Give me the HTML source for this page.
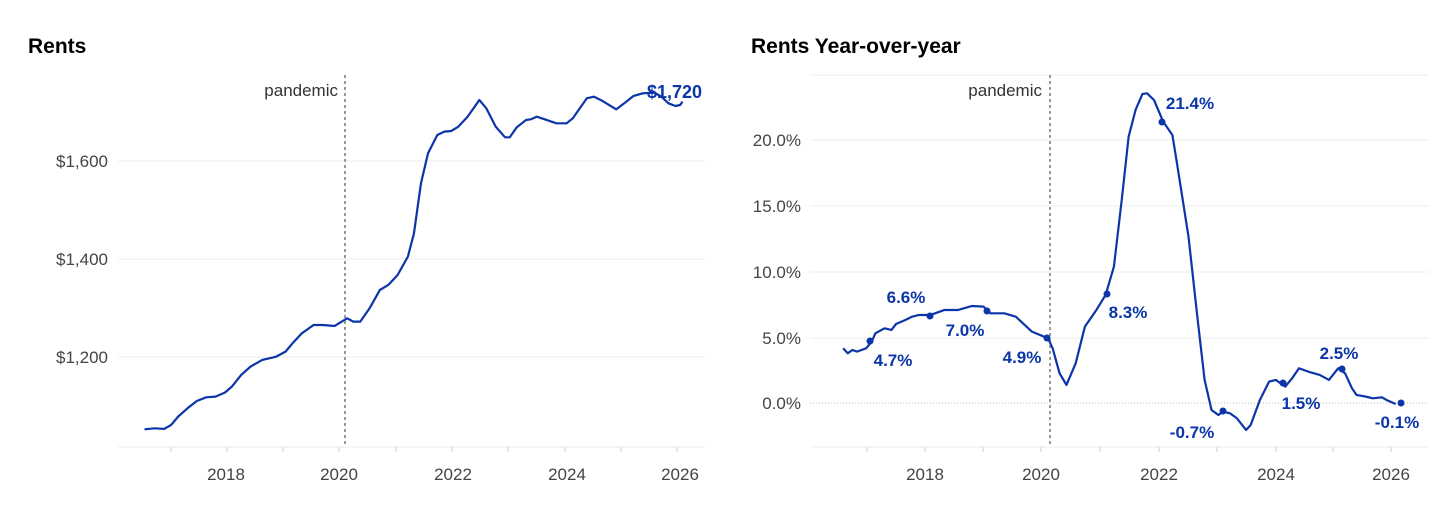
<!DOCTYPE html>
<html><head><meta charset="utf-8"><style>
html,body{margin:0;padding:0;background:#fff;width:1450px;height:505px;overflow:hidden}
svg{display:block;font-family:"Liberation Sans",sans-serif}
.t{font-size:21px;font-weight:bold;fill:#000}
.k{font-size:17px;fill:#444}
.g{stroke:#eee;stroke-width:1}
.l{fill:none;stroke:#0b35a8;stroke-width:2.2;vector-effect:non-scaling-stroke;stroke-linejoin:round}
.b{font-size:17px;font-weight:bold;fill:#0b35a8}
</style></head><body>
<svg width="1450" height="505" viewBox="0 0 1450 505">
<text class="t" x="28" y="53">Rents</text>
<line class="g" x1="118" y1="161" x2="705" y2="161"/>
<line class="g" x1="118" y1="259" x2="705" y2="259"/>
<line class="g" x1="118" y1="357" x2="705" y2="357"/>
<line class="g" x1="118" y1="447" x2="705" y2="447"/>
<g stroke="#ccc"><line x1="171" y1="447" x2="171" y2="452"/><line x1="227" y1="447" x2="227" y2="452"/><line x1="283" y1="447" x2="283" y2="452"/><line x1="339" y1="447" x2="339" y2="452"/><line x1="396" y1="447" x2="396" y2="452"/><line x1="452" y1="447" x2="452" y2="452"/><line x1="508" y1="447" x2="508" y2="452"/><line x1="565" y1="447" x2="565" y2="452"/><line x1="621" y1="447" x2="621" y2="452"/><line x1="677" y1="447" x2="677" y2="452"/></g>
<text class="k" x="108" y="167" text-anchor="end">$1,600</text>
<text class="k" x="108" y="265" text-anchor="end">$1,400</text>
<text class="k" x="108" y="363" text-anchor="end">$1,200</text>
<g text-anchor="middle" class="k"><text x="226" y="480">2018</text><text x="339" y="480">2020</text><text x="453" y="480">2022</text><text x="567" y="480">2024</text><text x="680" y="480">2026</text></g>
<line x1="345" y1="75" x2="345" y2="447" stroke="#999" stroke-width="2" stroke-dasharray="3,3"/>
<text class="k" x="338" y="96" text-anchor="end" style="fill:#333">pandemic</text>
<g transform="translate(-4,20) scale(0.467,0.3333)">
<path class="l" d="M318,1228 L340,1225 360,1227 375,1215 390,1190 410,1165 430,1143 450,1132 470,1130 490,1118 505,1100 525,1065 545,1040 570,1020 600,1010 620,995 635,970 655,940 680,915 700,915 725,918 740,905 752,895 765,905 780,905 800,865 822,810 840,795 860,765 882,710 895,640 910,490 925,400 945,345 960,335 975,333 990,320 1010,290 1035,240 1050,265 1070,320 1090,352 1100,352 1115,322 1135,300 1145,298 1158,290 1175,298 1200,310 1222,310 1235,295 1265,235 1280,230 1295,240 1328,268 1345,250 1365,228 1385,220 1410,218 1425,230 1440,250 1455,258 1465,255 1470,245"/>
</g>
<text class="b" x="702" y="98" text-anchor="end" style="font-size:18px">$1,720</text>

<text class="t" x="751" y="53">Rents Year-over-year</text>
<line class="g" x1="810" y1="75" x2="1428" y2="75"/>
<line class="g" x1="810" y1="140" x2="1428" y2="140"/>
<line class="g" x1="810" y1="206" x2="1428" y2="206"/>
<line class="g" x1="810" y1="272" x2="1428" y2="272"/>
<line class="g" x1="810" y1="338" x2="1428" y2="338"/>
<line x1="810" y1="403" x2="1428" y2="403" stroke="#bbb" stroke-dasharray="1,2"/>
<line class="g" x1="810" y1="447" x2="1428" y2="447"/>
<g stroke="#ccc"><line x1="867" y1="447" x2="867" y2="452"/><line x1="925" y1="447" x2="925" y2="452"/><line x1="983" y1="447" x2="983" y2="452"/><line x1="1041" y1="447" x2="1041" y2="452"/><line x1="1100" y1="447" x2="1100" y2="452"/><line x1="1159" y1="447" x2="1159" y2="452"/><line x1="1217" y1="447" x2="1217" y2="452"/><line x1="1276" y1="447" x2="1276" y2="452"/><line x1="1333" y1="447" x2="1333" y2="452"/><line x1="1391" y1="447" x2="1391" y2="452"/></g>
<g class="k" text-anchor="end"><text x="801" y="146">20.0%</text><text x="801" y="212">15.0%</text><text x="801" y="278">10.0%</text><text x="801" y="344">5.0%</text><text x="801" y="409">0.0%</text></g>
<g text-anchor="middle" class="k"><text x="925" y="480">2018</text><text x="1041" y="480">2020</text><text x="1159" y="480">2022</text><text x="1276" y="480">2024</text><text x="1391" y="480">2026</text></g>
<line x1="1050" y1="75" x2="1050" y2="447" stroke="#999" stroke-width="2" stroke-dasharray="3,3"/>
<text class="k" x="1042" y="96" text-anchor="end" style="fill:#333">pandemic</text>
<g transform="translate(728,20) scale(0.4605,0.3333)">
<path class="l" d="M250,985 L260,1000 270,990 280,995 300,985 312,965 320,940 340,925 355,930 365,912 385,900 400,890 415,885 440,885 470,870 500,870 530,858 555,860 570,880 600,880 625,890 660,935 695,955 705,985 720,1060 735,1095 755,1030 775,920 800,870 820,825 838,740 855,540 870,350 885,270 900,222 910,220 925,240 945,305 965,345 975,430 1000,650 1020,900 1035,1080 1050,1170 1065,1185 1075,1175 1090,1180 1105,1195 1125,1230 1135,1215 1155,1140 1175,1085 1190,1080 1200,1090 1210,1100 1225,1075 1240,1045 1260,1055 1285,1065 1305,1080 1325,1045 1340,1060 1355,1105 1365,1125 1385,1130 1400,1135 1420,1132 1430,1140 1450,1152"/>
</g>
<g fill="#0b35a8"><circle cx="870" cy="341" r="3.5"/><circle cx="930" cy="316" r="3.5"/><circle cx="987" cy="311" r="3.5"/><circle cx="1047" cy="338" r="3.5"/><circle cx="1107" cy="294" r="3.5"/><circle cx="1162" cy="122" r="3.5"/><circle cx="1223" cy="411" r="3.5"/><circle cx="1283" cy="383" r="3.5"/><circle cx="1342" cy="369" r="3.5"/><circle cx="1401" cy="403" r="3.5"/></g>
<g class="b" text-anchor="middle">
<text x="906" y="303">6.6%</text><text x="893" y="366">4.7%</text><text x="965" y="336">7.0%</text><text x="1022" y="363">4.9%</text><text x="1128" y="318">8.3%</text><text x="1190" y="109">21.4%</text><text x="1192" y="438">-0.7%</text><text x="1301" y="409">1.5%</text><text x="1339" y="359">2.5%</text><text x="1397" y="428">-0.1%</text>
</g>
</svg>
</body></html>
